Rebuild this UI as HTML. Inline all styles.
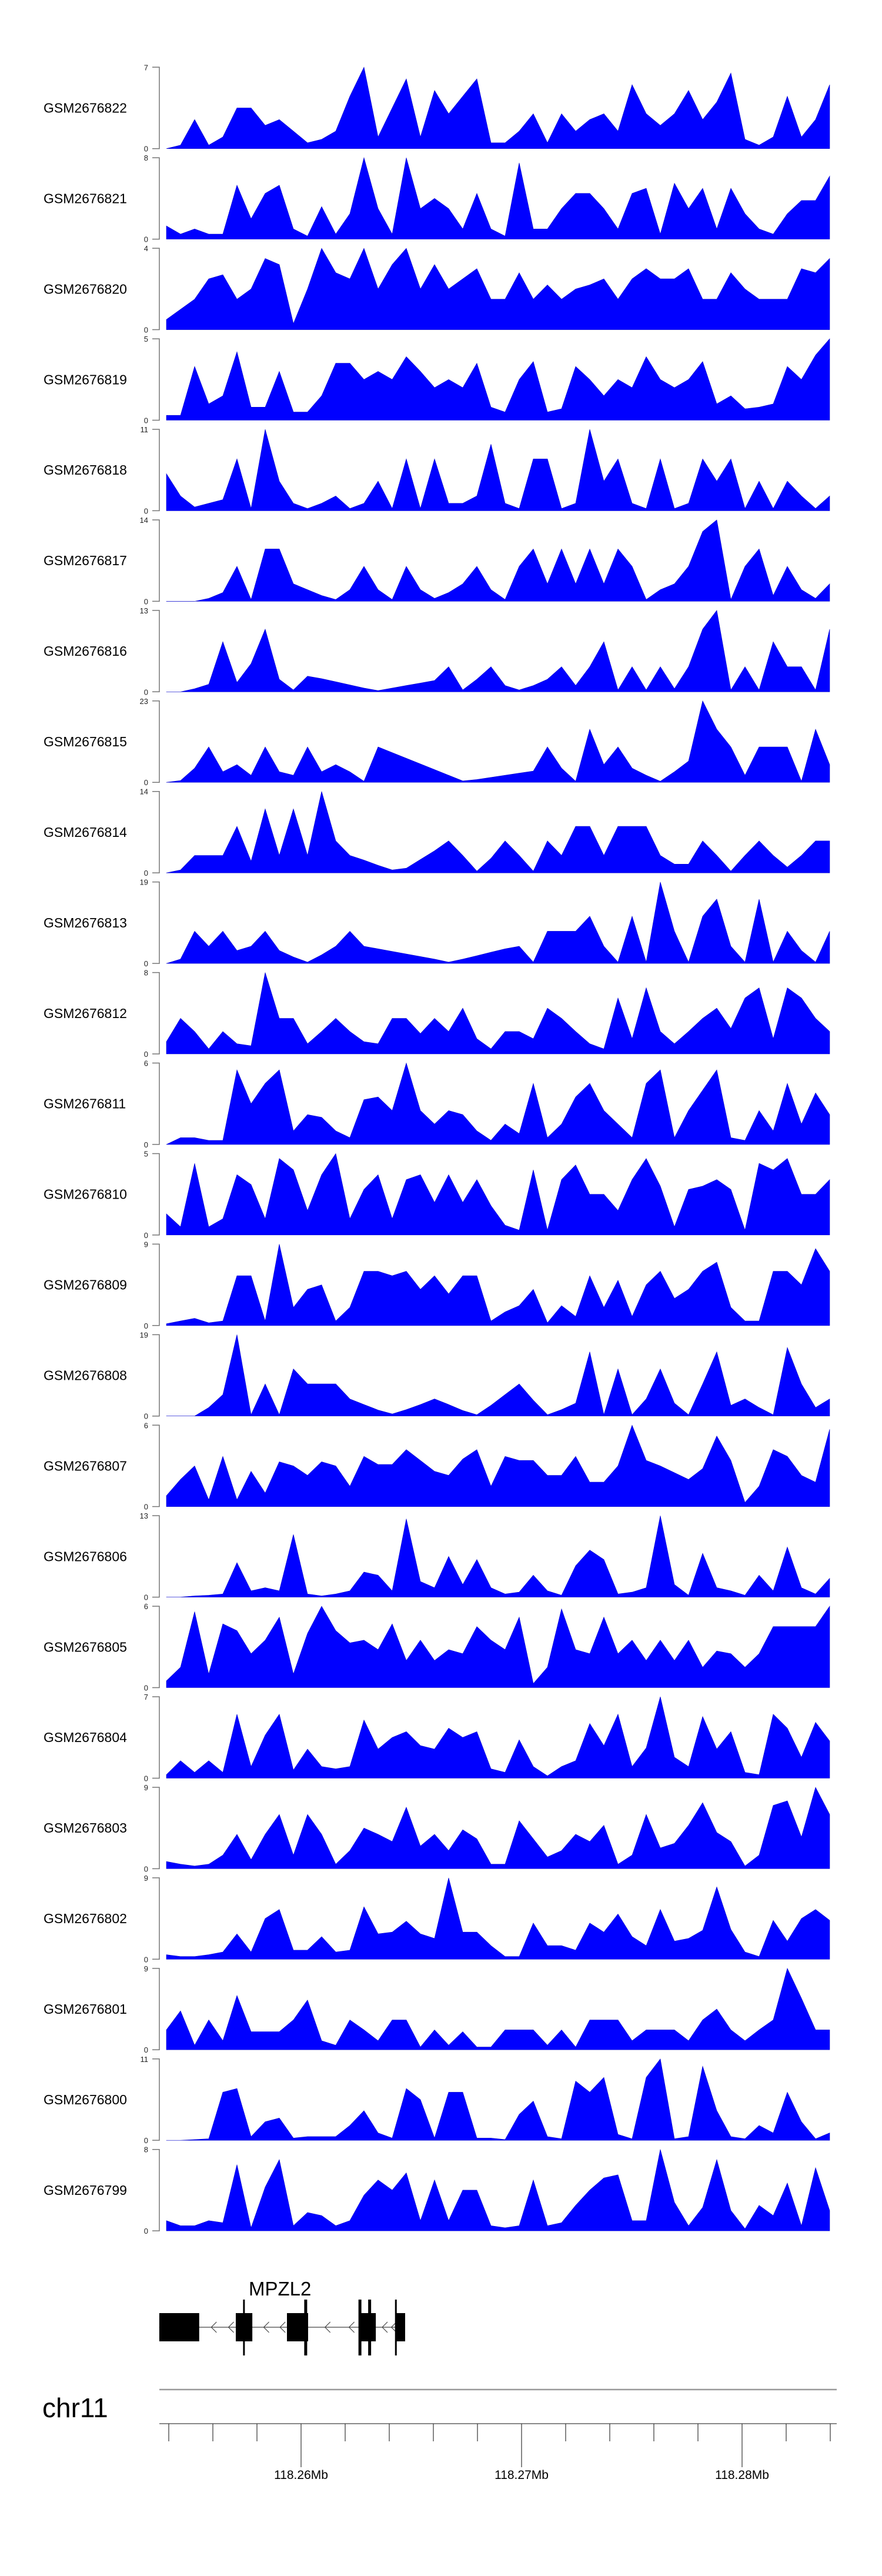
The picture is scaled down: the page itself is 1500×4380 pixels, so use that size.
<!DOCTYPE html>
<html><head><meta charset="utf-8"><style>
html,body{margin:0;padding:0;background:#fff;}
svg{display:block;}
text{font-family:"Liberation Sans",sans-serif;}
</style></head>
<body>
<svg id="chart" width="1500" height="4380" xmlns="http://www.w3.org/2000/svg">
<g id="tracks"></g>
<g id="gene"></g>
<g id="axis"></g>
</svg>
<script>
// ---- data ----
const sampleNames = ["GSM2676822","GSM2676821","GSM2676820","GSM2676819","GSM2676818","GSM2676817","GSM2676816","GSM2676815","GSM2676814","GSM2676813","GSM2676812","GSM2676811","GSM2676810","GSM2676809","GSM2676808","GSM2676807","GSM2676806","GSM2676805","GSM2676804","GSM2676803","GSM2676802","GSM2676801","GSM2676800","GSM2676799"];
const yMaxValues = [7,8,4,5,11,14,13,23,14,19,8,6,5,9,19,6,13,6,7,9,9,9,11,8];
const cov822 = [0,0.3,2.5,0.3,1,3.5,3.5,2,2.5,1.5,0.5,0.8,1.5,4.5,7,1,3.5,6,1,5,3,4.5,6,0.5,0.5,1.5,3,0.5,3,1.5,2.5,3,1.5,5.5,3,2,3,5,2.5,4,6.5,0.8,0.3,1,4.5,1,2.5,5.5];
const cov821 = [1.3,0.5,1,0.5,0.5,5.3,2,4.5,5.3,1,0.3,3.2,0.5,2.5,8,3,0.5,8,3,4,3,1,4.5,1,0.3,7.5,1,1,3,4.5,4.5,3,1,4.5,5,0.5,5.5,3,5,1,5,2.5,1,0.5,2.5,3.8,3.8,6.2];
const cov820 = [0.5,1,1.5,2.5,2.7,1.5,2,3.5,3.2,0.3,2,4,2.8,2.5,4,2,3.2,4,2,3.2,2,2.5,3,1.5,1.5,2.8,1.5,2.2,1.5,2,2.2,2.5,1.5,2.5,3,2.5,2.5,3,1.5,1.5,2.8,2,1.5,1.5,1.5,3,2.8,3.5];
const cov819 = [0.3,0.3,3.3,1,1.5,4.2,0.8,0.8,3,0.5,0.5,1.5,3.5,3.5,2.5,3,2.5,3.9,3,2,2.5,2,3.5,0.8,0.5,2.5,3.6,0.5,0.7,3.3,2.5,1.5,2.5,2,3.9,2.5,2,2.5,3.6,1,1.5,0.7,0.8,1,3.3,2.5,4,5];
const cov818 = [5,2,0.5,1,1.5,7,0.3,11,4,1,0.3,1,2,0.3,1,4,0.3,7,0.3,7,1,1,2,9,1,0.3,7,7,0.3,1,11,4,7,1,0.3,7,0.3,1,7,4,7,0.3,4,0.3,4,2,0.3,2];
const cov817 = [0,0,0,0.5,1.5,6,0.3,9,9,3,2,1,0.3,2,6,2,0.3,6,2,0.5,1.5,3,6,2,0.3,6,9,3,9,3,9,3,9,6,0.3,2,3,6,12,14,0.3,6,9,1,6,2,0.5,3];
const cov816 = [0,0,0.5,1.2,8,1.5,4.5,10,2,0.3,2.5,2.1,1.6,1.1,0.6,0.2,0.6,1,1.4,1.8,4,0.3,2,4,1,0.3,1,2,4,1,4,8,0.3,4,0.3,4,0.5,4,10,13,0.3,4,0.3,8,4,4,0.3,10];
const cov815 = [0,0.5,4,10,3,5,2,10,3,2,10,3,5,3,0.3,10,8.4,6.8,5.2,3.6,2,0.4,0.8,1.4,2,2.6,3.2,10,4,0.3,15,5,10,4,2,0.3,3,6,23,15,10,2,10,10,10,0.3,15,5];
const cov814 = [0,0.5,3,3,3,8,2,11,3,11,3,14,5.5,3,2.2,1.3,0.5,0.8,2.3,3.8,5.5,3,0.3,2.5,5.5,3,0.3,5.5,3,8,8,3,8,8,8,3,1.5,1.5,5.5,3,0.3,3,5.5,3,1,3,5.5,5.5];
const cov813 = [0,1,7.5,4,7.5,3,4,7.5,3,1.5,0.3,2,4,7.5,4,3.4,2.8,2.2,1.6,1,0.3,1,1.8,2.6,3.4,4,0.3,7.5,7.5,7.5,11,4,0.3,11,0.3,19,7.5,0.3,11,15,4,0.3,15,0.3,7.5,3,0.3,7.5];
const cov812 = [1.2,3.5,2.2,0.5,2.2,1,0.8,8,3.5,3.5,1,2.2,3.5,2.2,1.2,1,3.5,3.5,2,3.5,2.2,4.5,1.5,0.5,2.2,2.2,1.5,4.5,3.5,2.2,1,0.5,5.5,1.5,6.5,2.2,1,2.2,3.5,4.5,2.5,5.5,6.5,1.5,6.5,5.5,3.5,2.2];
const cov811 = [0,0.5,0.5,0.3,0.3,5.5,3,4.5,5.5,1,2.2,2,1,0.5,3.3,3.5,2.5,6,2.5,1.5,2.5,2.2,1,0.3,1.5,0.8,4.5,0.5,1.5,3.5,4.5,2.5,1.5,0.5,4.5,5.5,0.5,2.5,4,5.5,0.5,0.3,2.5,1,4.5,1.5,3.8,2.2];
const cov810 = [1.3,0.5,4.4,0.5,1,3.7,3.1,1,4.7,4,1.5,3.7,5,1,2.8,3.7,1,3.4,3.7,2,3.7,2,3.4,1.8,0.6,0.3,4,0.3,3.4,4.3,2.5,2.5,1.5,3.4,4.7,3,0.5,2.8,3,3.4,2.8,0.3,4.4,4,4.7,2.5,2.5,3.4];
const cov809 = [0.2,0.5,0.8,0.3,0.5,5.5,5.5,0.5,9,2,4,4.5,0.5,2,6,6,5.5,6,4,5.5,3.5,5.5,5.5,0.5,1.5,2.2,4,0.3,2.2,1,5.5,2,5,1,4.5,6,3,4,6,7,2,0.5,0.5,6,6,4.5,8.5,6];
const cov808 = [0,0,0,2,5,19,0.3,7.5,0.3,11,7.5,7.5,7.5,4,2.7,1.4,0.5,1.5,2.7,4,2.7,1.3,0.3,2.5,5,7.5,3.7,0.3,1.5,3,15,0.3,11,0.3,4,11,3,0.3,7.5,15,2.5,4,2,0.3,16,7.5,2,4];
const cov807 = [0.8,2,3,0.5,3.7,0.5,2.6,1,3.3,3,2.3,3.3,3,1.5,3.7,3.1,3.1,4.2,3.4,2.6,2.3,3.5,4.2,1.5,3.7,3.4,3.4,2.3,2.3,3.7,1.8,1.8,3,6,3.4,3,2.5,2,2.8,5.2,3.4,0.3,1.5,4.2,3.7,2.3,1.8,5.7];
const cov806 = [0,0,0.2,0.3,0.5,5.5,1,1.5,1,10,0.5,0.2,0.5,1,4,3.5,1,12.5,2.5,1.5,6.5,2,6,1.5,0.5,0.8,3.5,1,0.3,5,7.5,6,0.5,0.8,1.5,13,2,0.3,7,1.5,1,0.3,3.5,1,8,1.5,0.5,3];
const cov805 = [0.5,1.5,5.6,1,4.7,4.2,2.5,3.5,5.2,1,4,6,4.2,3.3,3.5,2.8,4.7,2,3.5,2,2.8,2.5,4.5,3.5,2.8,5.2,0.3,1.5,5.8,2.8,2.5,5.2,2.5,3.5,2,3.5,2,3.5,1.5,2.7,2.5,1.5,2.5,4.5,4.5,4.5,4.5,6];
const cov804 = [0.3,1.5,0.5,1.5,0.5,5.5,1,3.7,5.5,0.7,2.5,1,0.8,1,5,2.5,3.5,4,2.8,2.5,4.3,3.5,4,0.8,0.5,3.3,1,0.2,1,1.5,4.7,2.8,5.5,1,2.6,7,1.8,1,5.3,2.5,4,0.5,0.3,5.5,4.3,1.8,4.8,3.2];
const cov803 = [0.8,0.5,0.3,0.5,1.5,3.8,1,3.8,6,1.5,6,3.8,0.5,2,4.5,3.8,3,6.8,2.5,3.8,2,4.3,3.3,0.5,0.5,5.3,3.3,1.3,2,3.8,3,4.8,0.5,1.5,6,2.3,2.8,4.8,7.3,4,3,0.3,1.5,7,7.5,3.5,9,6];
const cov802 = [0.5,0.3,0.3,0.5,0.8,2.8,0.8,4.5,5.5,1,1,2.5,0.8,1,5.8,2.8,3,4.2,2.8,2.3,9,3,3,1.5,0.3,0.3,4,1.5,1.5,1,4,3,5,2.5,1.5,5.5,2,2.3,3.2,8,3.3,0.8,0.3,4.3,2,4.5,5.5,4.3];
const cov801 = [2.2,4.3,0.5,3.3,1,6,2,2,2,3.3,5.5,1,0.5,3.3,2.2,1,3.3,3.3,0.3,2.2,0.5,2,0.3,0.3,2.2,2.2,2.2,0.5,2.2,0.3,3.3,3.3,3.3,1,2.2,2.2,2.2,1,3.3,4.5,2.2,1,2.2,3.3,9,5.7,2.2,2.2];
const cov800 = [0,0,0.1,0.2,6.5,7,0.5,2.5,3,0.3,0.5,0.5,0.5,2,4,1,0.3,7,5.5,0.3,6.5,6.5,0.3,0.3,0.1,3.5,5.3,0.5,0.2,8,6.5,8.5,0.8,0.2,8.5,11,0.2,0.5,10,4,0.5,0.2,2,1,6.5,2.5,0.2,1];
const cov799 = [1,0.5,0.5,1,0.8,6.5,0.3,4.3,7,0.5,1.8,1.5,0.5,1,3.5,5,4,5.7,1,5,1,4,4,0.5,0.3,0.5,5,0.5,0.8,2.5,4,5.2,5.5,1,1,8,2.8,0.5,2.3,7,2,0.2,2.5,1.5,4.7,0.5,6.2,2];
const coverageSeries = [cov822,cov821,cov820,cov819,cov818,cov817,cov816,cov815,cov814,cov813,cov812,cov811,cov810,cov809,cov808,cov807,cov806,cov805,cov804,cov803,cov802,cov801,cov800,cov799];
const regionStartMb = 118.253573;
const regionEndMb = 118.284293;
const exonStarts = [118.25357,118.25704,118.25936,118.26264,118.26427];
const exonEnds   = [118.25538,118.25779,118.26032,118.26339,118.26472];
const tallMarks  = [118.25741,118.26021,118.26267,118.26311,118.26430];
const tickMb = [118.254,118.256,118.258,118.26,118.262,118.264,118.266,118.268,118.27,118.272,118.274,118.276,118.278,118.28,118.282,118.284];
const majorTickMb = [118.26,118.27,118.28];
const majorTickLabels = ["118.26Mb","118.27Mb","118.28Mb"];

// ---- scales ----
const NS="http://www.w3.org/2000/svg";
const X0=271, X1=1423;
function xScale(mb){return X0+(mb-regionStartMb)/(regionEndMb-regionStartMb)*(X1-X0);}
function binMb(i,n){return regionStartMb+(i+0.5)/n*(regionEndMb-regionStartMb);}
const TRACK_TOP=114.3, TRACK_H=138.4, PITCH=153.93;
function mk(tag,attrs,parent){const e=document.createElementNS(NS,tag);for(const k in attrs)e.setAttribute(k,attrs[k]);parent.appendChild(e);return e;}

const tracks=document.getElementById('tracks');
coverageSeries.forEach((vals,t)=>{
  const top=TRACK_TOP+t*PITCH, base=top+TRACK_H, ymax=yMaxValues[t];
  const yS=v=>base-v/ymax*TRACK_H;
  const g=mk('g',{},tracks);
  
  
  const lab=mk('text',{x:74,y:top+TRACK_H/2+8,'font-size':23,fill:'#000'},g);
  lab.textContent=sampleNames[t];
  
  
  const ax=mk('path',{d:`M259 ${top}H271V${base}H259`,stroke:'#777',fill:'none','stroke-width':1.5},g);
  
  
  const tmax=mk('text',{x:252,y:top+5,'font-size':13,'text-anchor':'end',fill:'#222'},g);
  tmax.textContent=String(ymax);
  
  
  const t0=mk('text',{x:252,y:base+5,'font-size':13,'text-anchor':'end',fill:'#222'},g);
  t0.textContent='0';
  
  
  const n=vals.length;
  let d=`M${xScale(binMb(0,n)).toFixed(1)} ${base}`;
  vals.forEach((v,i)=>{d+=`L${xScale(binMb(i,n)).toFixed(1)} ${yS(v).toFixed(1)}`;});
  d+=`L${xScale(binMb(n-1,n)).toFixed(1)} ${base}Z`;
  const area=mk('path',{d:d,fill:'#0000FF',stroke:'#0000CC','stroke-width':0.6},g);
  
  
});

// gene model
const gene=document.getElementById('gene');
const GY=3957;
const intron=mk('line',{x1:xScale(exonStarts[0]),x2:xScale(exonEnds[exonEnds.length-1]),y1:GY,y2:GY,stroke:'#444','stroke-width':1.3},gene);


for(let i=0;i<exonStarts.length-1;i++){
  const a=xScale(exonEnds[i]), b=xScale(exonStarts[i+1]);
  [0.33,0.8].forEach(f=>{
    const cx=a+(b-a)*f;
    const ch=mk('path',{d:`M${cx+9} ${GY-9}L${cx} ${GY}L${cx+9} ${GY+9}`,stroke:'#444',fill:'none','stroke-width':1.2},gene);
    
    
  });
}
exonStarts.forEach((s,i)=>{
  const r=mk('rect',{x:xScale(s),y:3933,width:xScale(exonEnds[i])-xScale(s),height:48,fill:'#000'},gene);
  
  
});
tallMarks.forEach((m,i)=>{
  const w=(i===1||i===2||i===3)?5:3;
  const r=mk('rect',{x:xScale(m)-w/2,y:3910,width:w,height:95,fill:'#000'},gene);
  
  
});
const gl=mk('text',{x:423,y:3903,'font-size':33,fill:'#000'},gene);
gl.textContent='MPZL2';



// genome axis
const axis=document.getElementById('axis');
const chr=mk('text',{x:72,y:4110,'font-size':46,fill:'#000'},axis);
chr.textContent='chr11';


const gline=mk('line',{x1:X0,x2:X1,y1:4063,y2:4063,stroke:'#999','stroke-width':2.5},axis);


const tline=mk('line',{x1:X0,x2:X1,y1:4121,y2:4121,stroke:'#888','stroke-width':2},axis);


tickMb.forEach(m=>{
  const x=xScale(m); if(x<X0||x>X1) return;
  const major=majorTickMb.some(v=>Math.abs(v-m)<1e-6);
  const tk=mk('line',{x1:x,x2:x,y1:4121,y2:major?4195:4151,stroke:'#333','stroke-width':1.2},axis);
  
  
});
majorTickMb.forEach((m,i)=>{
  const t=mk('text',{x:xScale(m),y:4215,'font-size':21,'text-anchor':'middle',fill:'#000'},axis);
  t.textContent=majorTickLabels[i];
  
  
});
</script>
</body></html>
